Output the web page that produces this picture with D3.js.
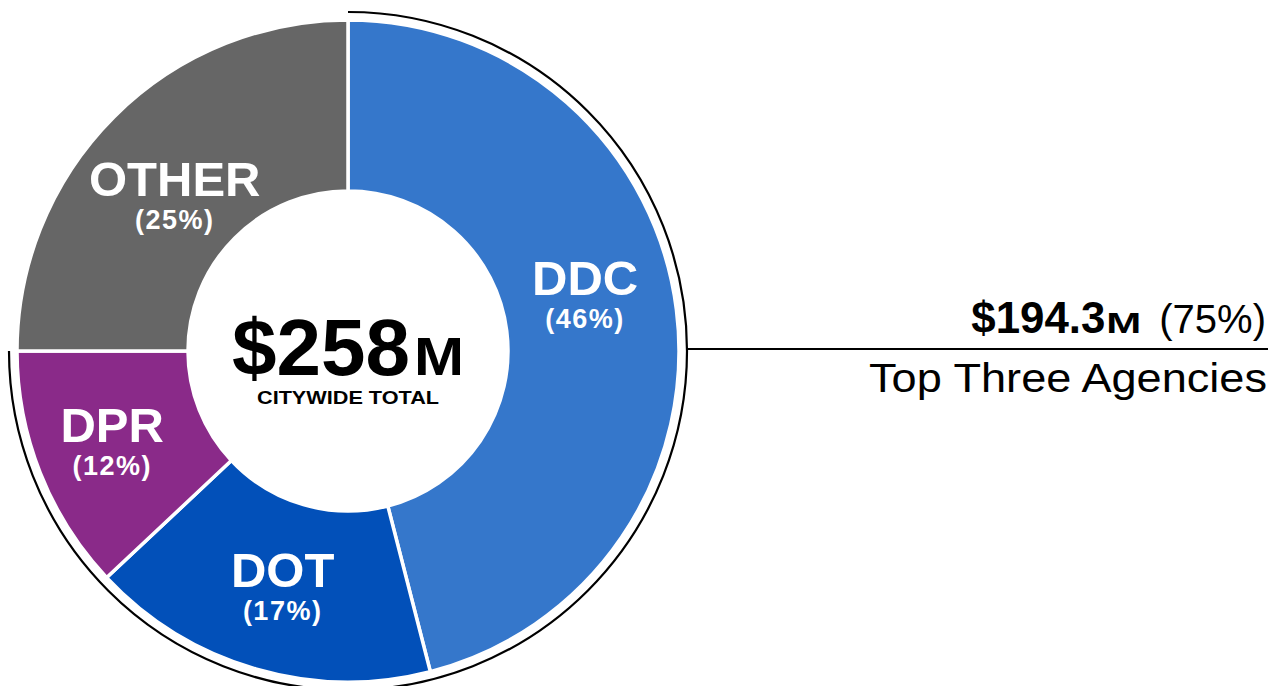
<!DOCTYPE html>
<html>
<head>
<meta charset="utf-8">
<script src="https://cdn.jsdelivr.net/npm/d3@7"></script>
<style>
  html, body { margin: 0; padding: 0; background: #fff; }
  svg text { font-family: "Liberation Sans", Arial, Helvetica, sans-serif; }
</style>
</head>
<body>
<div id="chart"></div>
<script>
// share of citywide spending by agency (%)
const agencies = ["DDC", "DOT", "DPR", "OTHER"];
const shares = [46, 17, 12, 25];
const colors = ["#3577cb", "#0250b9", "#8a2a89", "#666666"];
const TOP_N = 3;

const totalText = ["$258", "M"];
const totalCaption = "CITYWIDE TOTAL";
const topText = ["$194.3", "M", "(75%)"];
const topCaption = "Top Three Agencies";

const WIDTH = 1287, HEIGHT = 686;
const CX = 348, CY = 351;
const R_OUT = 331, R_IN = 160, R_BRACKET = 339;
// labels that sit off their centroid
const LABEL_NUDGE = { DDC: [-6, -26], OTHER: [0, 17], DPR: [-8, 0], DOT: [3, 0] };

const svg = d3.select("#chart")
  .append("svg")
    .attr("width", WIDTH)
    .attr("height", HEIGHT)

svg.append("rect").attr("width", WIDTH).attr("height", HEIGHT).attr("fill", "#fff")

const g = svg.append("g")
  .attr("transform", `translate(${CX}, ${CY})`)

const data = agencies.map((a, i) => ({ name: a, value: shares[i], color: colors[i] }))

const pie = d3.pie().sort(null).value(d => d.value)
const arcs = pie(data)

const arc = d3.arc().innerRadius(R_IN).outerRadius(R_OUT)

g.selectAll("path.slice")
  .data(arcs)
  .enter().append("path")
    .attr("class", "slice")
    .attr("d", arc)
    .attr("fill", d => d.data.color)
    .attr("stroke", "#fff")
    .attr("stroke-width", 3.5)
    .attr("stroke-linejoin", "miter")

// bracket arc round the top three agencies
const topEnd = arcs[TOP_N - 1].endAngle
g.append("path")
  .attr("d", d3.arc()({ innerRadius: R_BRACKET, outerRadius: R_BRACKET, startAngle: 0, endAngle: topEnd }))
  .attr("fill", "none")
  .attr("stroke", "#000")
  .attr("stroke-width", 2.2)

// slice labels
const labelArc = d3.arc().innerRadius(245).outerRadius(245)
const labels = g.selectAll("g.label")
  .data(arcs)
  .enter().append("g")
    .attr("class", "label")
    .attr("transform", d => {
      const c = labelArc.centroid(d)
      const n = LABEL_NUDGE[d.data.name] || [0, 0]
      return `translate(${c[0] + n[0]}, ${c[1] + n[1]})`
    })

labels.append("text")
  .attr("text-anchor", "middle")
  .attr("y", 1)
  .attr("fill", "#fff")
  .style("font-weight", "bold")
  .style("font-size", "49px")
  .text(d => d.data.name)

labels.append("text")
  .attr("text-anchor", "middle")
  .attr("y", 34)
  .attr("fill", "#fff")
  .style("font-weight", "bold")
  .style("font-size", "27px")
  .style("letter-spacing", "1.5px")
  .text(d => `(${d.data.value}%)`)

// centre total
const big = g.append("text")
  .attr("y", 24)
  .attr("fill", "#000")
  .style("font-weight", "bold")
  .style("font-size", "80px")
  .text(totalText[0])
const bigW = big.node().getComputedTextLength()
const mW = 50, gap = 4
const startX = -(bigW + gap + mW) / 2
big.attr("x", startX)
g.append("text")
  .attr("x", startX + bigW + gap)
  .attr("y", 24)
  .attr("textLength", mW)
  .attr("lengthAdjust", "spacingAndGlyphs")
  .style("font-weight", "bold")
  .style("font-size", "53px")
  .text(totalText[1])

g.append("text")
  .attr("text-anchor", "middle")
  .attr("y", 53)
  .attr("textLength", 182)
  .attr("lengthAdjust", "spacingAndGlyphs")
  .style("font-weight", "bold")
  .style("font-size", "19px")
  .text(totalCaption)

// callout on the right
const LINE_X0 = CX + R_BRACKET, LINE_X1 = 1268, LINE_Y = 349
svg.append("line")
  .attr("x1", LINE_X0).attr("x2", LINE_X1)
  .attr("y1", LINE_Y).attr("y2", LINE_Y)
  .attr("stroke", "#000")
  .attr("stroke-width", 2)

const pct = svg.append("text")
  .attr("x", 1266)
  .attr("y", 333)
  .attr("text-anchor", "end")
  .style("font-size", "40px")
  .text(topText[2])
const pctW = pct.node().getComputedTextLength()

const smallM = 35, mGap = 18
svg.append("text")
  .attr("x", 1266 - pctW - mGap - smallM)
  .attr("y", 333)
  .attr("textLength", smallM)
  .attr("lengthAdjust", "spacingAndGlyphs")
  .style("font-weight", "bold")
  .style("font-size", "29px")
  .text(topText[1])

svg.append("text")
  .attr("x", 1266 - pctW - mGap - smallM - 1)
  .attr("y", 333)
  .attr("text-anchor", "end")
  .attr("textLength", 134)
  .attr("lengthAdjust", "spacingAndGlyphs")
  .style("font-weight", "bold")
  .style("font-size", "44px")
  .text(topText[0])

svg.append("text")
  .attr("x", 1267)
  .attr("y", 392)
  .attr("text-anchor", "end")
  .attr("textLength", 398)
  .attr("lengthAdjust", "spacingAndGlyphs")
  .style("font-size", "41px")
  .text(topCaption)
</script>
</body>
</html>
